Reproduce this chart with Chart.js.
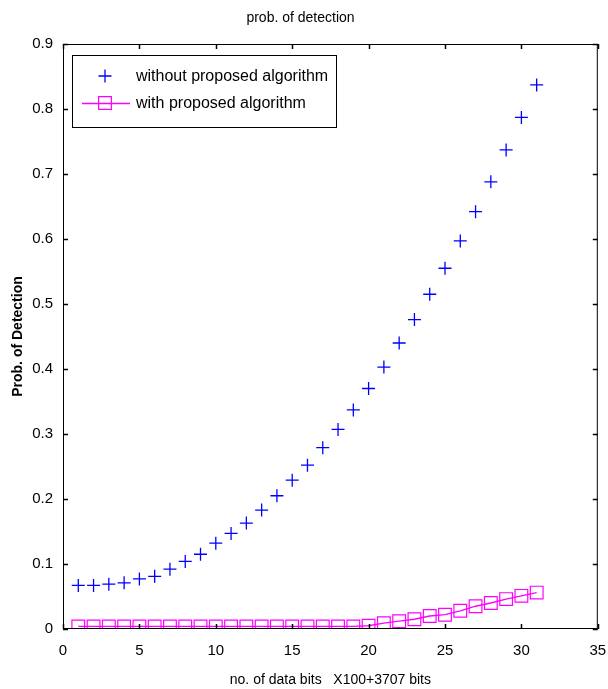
<!DOCTYPE html>
<html>
<head>
<meta charset="utf-8">
<script src="https://cdn.jsdelivr.net/npm/chart.js@4"></script>
<style>
  html, body { margin: 0; padding: 0; background: #fff; }
  #wrap { width: 608px; height: 689px; }
</style>
</head>
<body>
<div id="wrap"><canvas id="pd"></canvas></div>
<script>
const bits = [1, 2, 3, 4, 5, 6, 7, 8, 9, 10, 11, 12, 13, 14, 15, 16,
              17, 18, 19, 20, 21, 22, 23, 24, 25, 26, 27, 28, 29, 30, 31];
const without_alg = [0.067, 0.067, 0.069, 0.071, 0.077, 0.081, 0.092, 0.104, 0.115, 0.132,
                     0.147, 0.163, 0.183, 0.205, 0.229, 0.252, 0.279, 0.307, 0.337, 0.370,
                     0.403, 0.440, 0.476, 0.515, 0.555, 0.597, 0.642, 0.688, 0.737, 0.787, 0.837];
const with_alg = [0.004, 0.004, 0.004, 0.004, 0.004, 0.004, 0.004, 0.004, 0.004, 0.004,
                  0.004, 0.004, 0.004, 0.004, 0.004, 0.004, 0.004, 0.004, 0.004, 0.005,
                  0.009, 0.012, 0.015, 0.020, 0.022, 0.028, 0.035, 0.040, 0.046, 0.051, 0.056];
const series_names = ['without proposed algorithm', 'with proposed algorithm'];

const FONT = "'Liberation Sans', Arial, sans-serif";
const BLUE = '#0000ff';
const MAGENTA = '#ff00ff';

const toPts = (ys) => bits.map((b, i) => ({x: b, y: ys[i]}));

// box round the plot + inward ticks on all four sides
const boxTicks = {
  id: 'boxTicks',
  afterDraw(chart) {
    const {ctx, chartArea: {left, right, top, bottom}, scales: {x, y}} = chart;
    ctx.save();
    ctx.strokeStyle = '#000';
    ctx.lineWidth = 1;
    ctx.strokeRect(left + 0.5, top + 0.5, right - left - 1, bottom - top - 1);
    ctx.lineWidth = 1.5;
    ctx.beginPath();
    x.ticks.forEach(t => {
      const px = Math.round(x.getPixelForValue(t.value)) + 0.5;
      ctx.moveTo(px, bottom); ctx.lineTo(px, bottom - 5);
      ctx.moveTo(px, top); ctx.lineTo(px, top + 5);
    });
    y.ticks.forEach(t => {
      const py = Math.round(y.getPixelForValue(t.value)) + 0.5;
      ctx.moveTo(left, py); ctx.lineTo(left + 5, py);
      ctx.moveTo(right, py); ctx.lineTo(right - 5, py);
    });
    ctx.stroke();
    ctx.restore();
  }
};

// matlab style legend box in the upper left corner
const boxLegend = {
  id: 'boxLegend',
  afterDraw(chart) {
    const {ctx, chartArea: {left, top}} = chart;
    const bx = left + 9, by = top + 11, bw = 264, bh = 72;
    ctx.save();
    ctx.fillStyle = '#fff';
    ctx.fillRect(bx, by, bw, bh);
    ctx.strokeStyle = '#000';
    ctx.lineWidth = 1;
    ctx.strokeRect(bx + 0.5, by + 0.5, bw, bh);
    const rows = [by + 21, by + 48];
    chart.data.datasets.forEach((ds, i) => {
      const cy = rows[i];
      const mx = bx + 33;
      ctx.strokeStyle = ds.pointBorderColor;
      ctx.fillStyle = 'rgba(0,0,0,0)';
      if (ds.showLine) {
        ctx.lineWidth = ds.borderWidth;
        ctx.beginPath();
        ctx.moveTo(bx + 10, cy + 0.5); ctx.lineTo(bx + 58, cy + 0.5);
        ctx.stroke();
      }
      ctx.lineWidth = ds.pointBorderWidth;
      Chart.helpers.drawPoint(ctx, {
        pointStyle: ds.pointStyle, radius: ds.pointRadius, borderWidth: ds.pointBorderWidth
      }, mx, cy);
      ctx.font = '16px ' + FONT;
      ctx.fillStyle = '#000';
      ctx.textBaseline = 'middle';
      ctx.fillText(ds.label, bx + 64, cy + 1);
    });
    ctx.restore();
  }
};

const data_pd = {
  datasets: [
    {
      label: series_names[0],
      data: toPts(without_alg),
      showLine: false,
      pointStyle: 'cross',
      pointRadius: 6.5,
      pointBorderWidth: 1.3,
      borderColor: BLUE,
      pointBorderColor: BLUE,
      backgroundColor: BLUE,
    },
    {
      label: series_names[1],
      data: toPts(with_alg),
      showLine: true,
      borderWidth: 1.3,
      borderColor: MAGENTA,
      backgroundColor: MAGENTA,
      pointBorderColor: MAGENTA,
      pointStyle: 'rect',
      pointRadius: 9,
      pointBorderWidth: 1.2,
      pointBackgroundColor: 'rgba(0,0,0,0)',
      fill: false,
      tension: 0,
    }
  ]
};

const config_pd = {
  type: 'scatter',
  data: data_pd,
  options: {
    responsive: true,
    maintainAspectRatio: false,
    animation: false,
    layout: { padding: { left: 0, right: 7, top: 0, bottom: 0 } },
    elements: { line: { borderColor: MAGENTA } },
    plugins: {
      legend: { display: false },
      tooltip: { enabled: false },
      title: {
        display: true,
        text: 'prob. of detection',
        color: '#000',
        font: { family: FONT, size: 14, weight: 'normal', lineHeight: 1.2 },
        padding: { top: 10, bottom: 17.2 }
      }
    },
    scales: {
      x: {
        type: 'linear',
        min: 0, max: 35,
        ticks: { stepSize: 5, color: '#000', padding: 13, maxRotation: 0,
                 font: { family: FONT, size: 15 } },
        grid: { display: false, drawTicks: false },
        border: { display: false },
        title: {
          display: true,
          text: 'no. of data bits   X100+3707 bits',
          color: '#000',
          font: { family: FONT, size: 14 },
          padding: { top: 4, bottom: 0 }
        },
        afterFit(s) { s.height = 60; s.paddingLeft = 0; s.paddingRight = 0; }
      },
      y: {
        type: 'linear',
        min: 0, max: 0.9,
        ticks: { stepSize: 0.1, color: '#000', padding: 10,
                 font: { family: FONT, size: 15 },
                 callback: (v) => v === 0 ? '0' : v.toFixed(1) },
        grid: { display: false, drawTicks: false },
        border: { display: false },
        title: {
          display: true,
          text: 'Prob. of Detection',
          color: '#000',
          font: { family: FONT, size: 14, weight: 'bold' },
          padding: { top: 10, bottom: 4 }
        },
        afterFit(s) { s.width = 63; s.paddingTop = 0; s.paddingBottom = 0; }
      }
    }
  },
  plugins: [boxTicks, boxLegend]
};

const myPd = new Chart(document.getElementById('pd'), config_pd);
</script>
</body>
</html>
